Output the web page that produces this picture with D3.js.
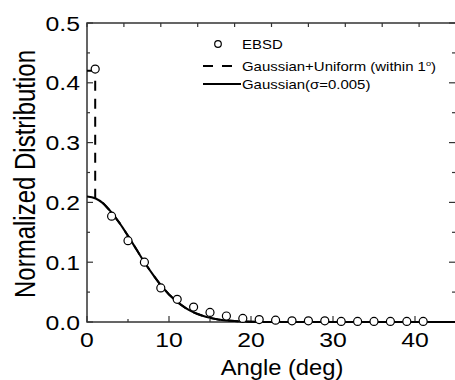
<!DOCTYPE html>
<html>
<head>
<meta charset="utf-8">
<script src="https://cdn.jsdelivr.net/npm/d3@7"></script>
<style>
  body { margin: 0; background: #fff; }
  text { font-family: Arial, "Liberation Sans", sans-serif; fill: #000; }
</style>
</head>
<body>
<svg width="455" height="380"></svg>
<script>
// EBSD measurements
var ebsdAngle = [1, 3, 5, 7, 9, 11, 13, 15, 17, 19, 21, 23, 25, 27, 29, 31, 33, 35, 37, 39, 41];
var ebsdValue = [0.423, 0.177, 0.136, 0.100, 0.057, 0.038, 0.025, 0.016, 0.010, 0.006, 0.004,
                 0.003, 0.002, 0.002, 0.002, 0.001, 0.001, 0.001, 0.001, 0.001, 0.001];

// Gaussian fit curve
var gaussAngle = [0, 1, 2, 3, 4, 5, 6, 7, 8, 9, 10, 11, 12, 13, 14, 15, 16, 17, 18, 19, 20, 22, 25, 45];
var gaussValue = [0.210, 0.207, 0.198, 0.183, 0.165, 0.144, 0.122, 0.100, 0.080, 0.0615, 0.046, 0.0336,
                  0.0237, 0.0162, 0.0108, 0.0069, 0.0043, 0.0026, 0.0015, 0.0009, 0.0005, 0.0001, 0, 0];

// uniform part (within 1 deg) of the dashed curve
var uniformAngle = [0, 1, 1];
var uniformValue = [0.42, 0.42, 0.207];

var legendLabels = ['EBSD', 'Gaussian+Uniform (within 1', 'Gaussian('];

var svg = d3.select('svg');
// right edge of the frame falls just outside the window
var plotL = 87, plotR = 456, plotT = 23, plotB = 322;

var x = d3.scaleLinear().domain([0, 45]).range([plotL, plotR]);
var y = d3.scaleLinear().domain([0, 0.5]).range([plotB, plotT]);

var axisColor = '#333';

// frame
svg.append('rect')
    .attr('x', plotL).attr('y', plotT)
    .attr('width', plotR - plotL + 2).attr('height', plotB - plotT)
    .attr('fill', 'none')
    .attr('stroke', axisColor)
    .attr('stroke-width', 1.5);

// bottom ticks
var xt = d3.range(0, 46, 5);
svg.append('g').selectAll('line').data(xt).enter().append('line')
    .attr('x1', d => x(d)).attr('x2', d => x(d))
    .attr('y1', plotB).attr('y2', d => plotB - (d % 10 === 0 ? 6 : 3))
    .attr('stroke', axisColor).attr('stroke-width', 1.2);

// top ticks
var topTicks = d3.range(0, 46, 4.5);
svg.append('g').selectAll('line').data(topTicks).enter().append('line')
    .attr('x1', d => x(d)).attr('x2', d => x(d))
    .attr('y1', plotT).attr('y2', plotT + 4)
    .attr('stroke', axisColor).attr('stroke-width', 1.2);

// left and right ticks
var yt = d3.range(0, 11).map(i => i * 0.05);
svg.append('g').selectAll('line').data(yt).enter().append('line')
    .attr('x1', plotL).attr('x2', (d, i) => plotL + (i % 2 === 0 ? 6 : 3))
    .attr('y1', d => y(d)).attr('y2', d => y(d))
    .attr('stroke', axisColor).attr('stroke-width', 1.2);
svg.append('g').selectAll('line').data(yt).enter().append('line')
    .attr('x1', plotR).attr('x2', (d, i) => plotR - (i % 2 === 0 ? 7 : 4))
    .attr('y1', d => y(d)).attr('y2', d => y(d))
    .attr('stroke', axisColor).attr('stroke-width', 1.2);

// tick labels
svg.append('g').selectAll('text').data(d3.range(0, 41, 10)).enter().append('text')
    .attr('transform', d => 'translate(' + x(d) + ',347) scale(1.18,1)')
    .attr('text-anchor', 'middle')
    .style('font-size', '21px')
    .text(d => d);

svg.append('g').selectAll('text').data(d3.range(0, 6).map(i => i / 10)).enter().append('text')
    .attr('transform', d => 'translate(80,' + (y(d) + 7.5) + ') scale(1.18,1)')
    .attr('text-anchor', 'end')
    .style('font-size', '21px')
    .text(d => d.toFixed(1));

// axis titles
svg.append('text')
    .attr('transform', 'translate(282,375) scale(1.08,1)')
    .attr('text-anchor', 'middle')
    .style('font-size', '22px')
    .text('Angle (deg)');

svg.append('text')
    .attr('transform', 'translate(35,174) rotate(-90) scale(1,1.22)')
    .attr('text-anchor', 'middle')
    .style('font-size', '24px')
    .text('Normalized Distribution');

// curves
var dashedAngle = uniformAngle.concat(gaussAngle.filter(d => d > 1));
var dashedValue = uniformValue.concat(gaussValue.filter((d, i) => gaussAngle[i] > 1));

var line = d3.line()
    .x(d => x(d[0]))
    .y(d => y(d[1]));

svg.append('path')
    .datum(d3.zip(dashedAngle, dashedValue))
    .attr('d', line)
    .attr('fill', 'none')
    .attr('stroke', '#000')
    .attr('stroke-width', 2)
    .attr('stroke-dasharray', '10,8');

svg.append('path')
    .datum(d3.zip(gaussAngle, gaussValue))
    .attr('d', line.curve(d3.curveMonotoneX))
    .attr('fill', 'none')
    .attr('stroke', '#000')
    .attr('stroke-width', 2);

svg.append('g').selectAll('circle').data(d3.zip(ebsdAngle, ebsdValue)).enter().append('circle')
    .attr('cx', d => x(d[0]))
    .attr('cy', d => y(d[1]))
    .attr('r', 4)
    .attr('fill', '#fff')
    .attr('stroke', '#000')
    .attr('stroke-width', 1.2);

// legend
var lg = svg.append('g');
lg.append('circle')
    .attr('cx', 218).attr('cy', 44).attr('r', 3.3)
    .attr('fill', '#fff').attr('stroke', '#000').attr('stroke-width', 1.2);
lg.append('line')
    .attr('x1', 203).attr('x2', 232).attr('y1', 66).attr('y2', 66)
    .attr('stroke', '#000').attr('stroke-width', 2).attr('stroke-dasharray', '10,9');
lg.append('line')
    .attr('x1', 203).attr('x2', 241).attr('y1', 84).attr('y2', 84)
    .attr('stroke', '#000').attr('stroke-width', 2);

var legendY = [44, 66, 84];
var lt = lg.selectAll('text').data(legendLabels).enter().append('text')
    .attr('transform', (d, i) => 'translate(242,' + (legendY[i] + 4.5) + ') scale(1.15,1)')
    .style('font-size', '13px')
    .text(d => d);

d3.select(lt.nodes()[1]).append('tspan')
    .attr('dy', -5).style('font-size', '8px').text('o');
d3.select(lt.nodes()[1]).append('tspan')
    .attr('dy', 5).text(')');
d3.select(lt.nodes()[2]).append('tspan').text('\u03c3=0.005)');
</script>
</body>
</html>
